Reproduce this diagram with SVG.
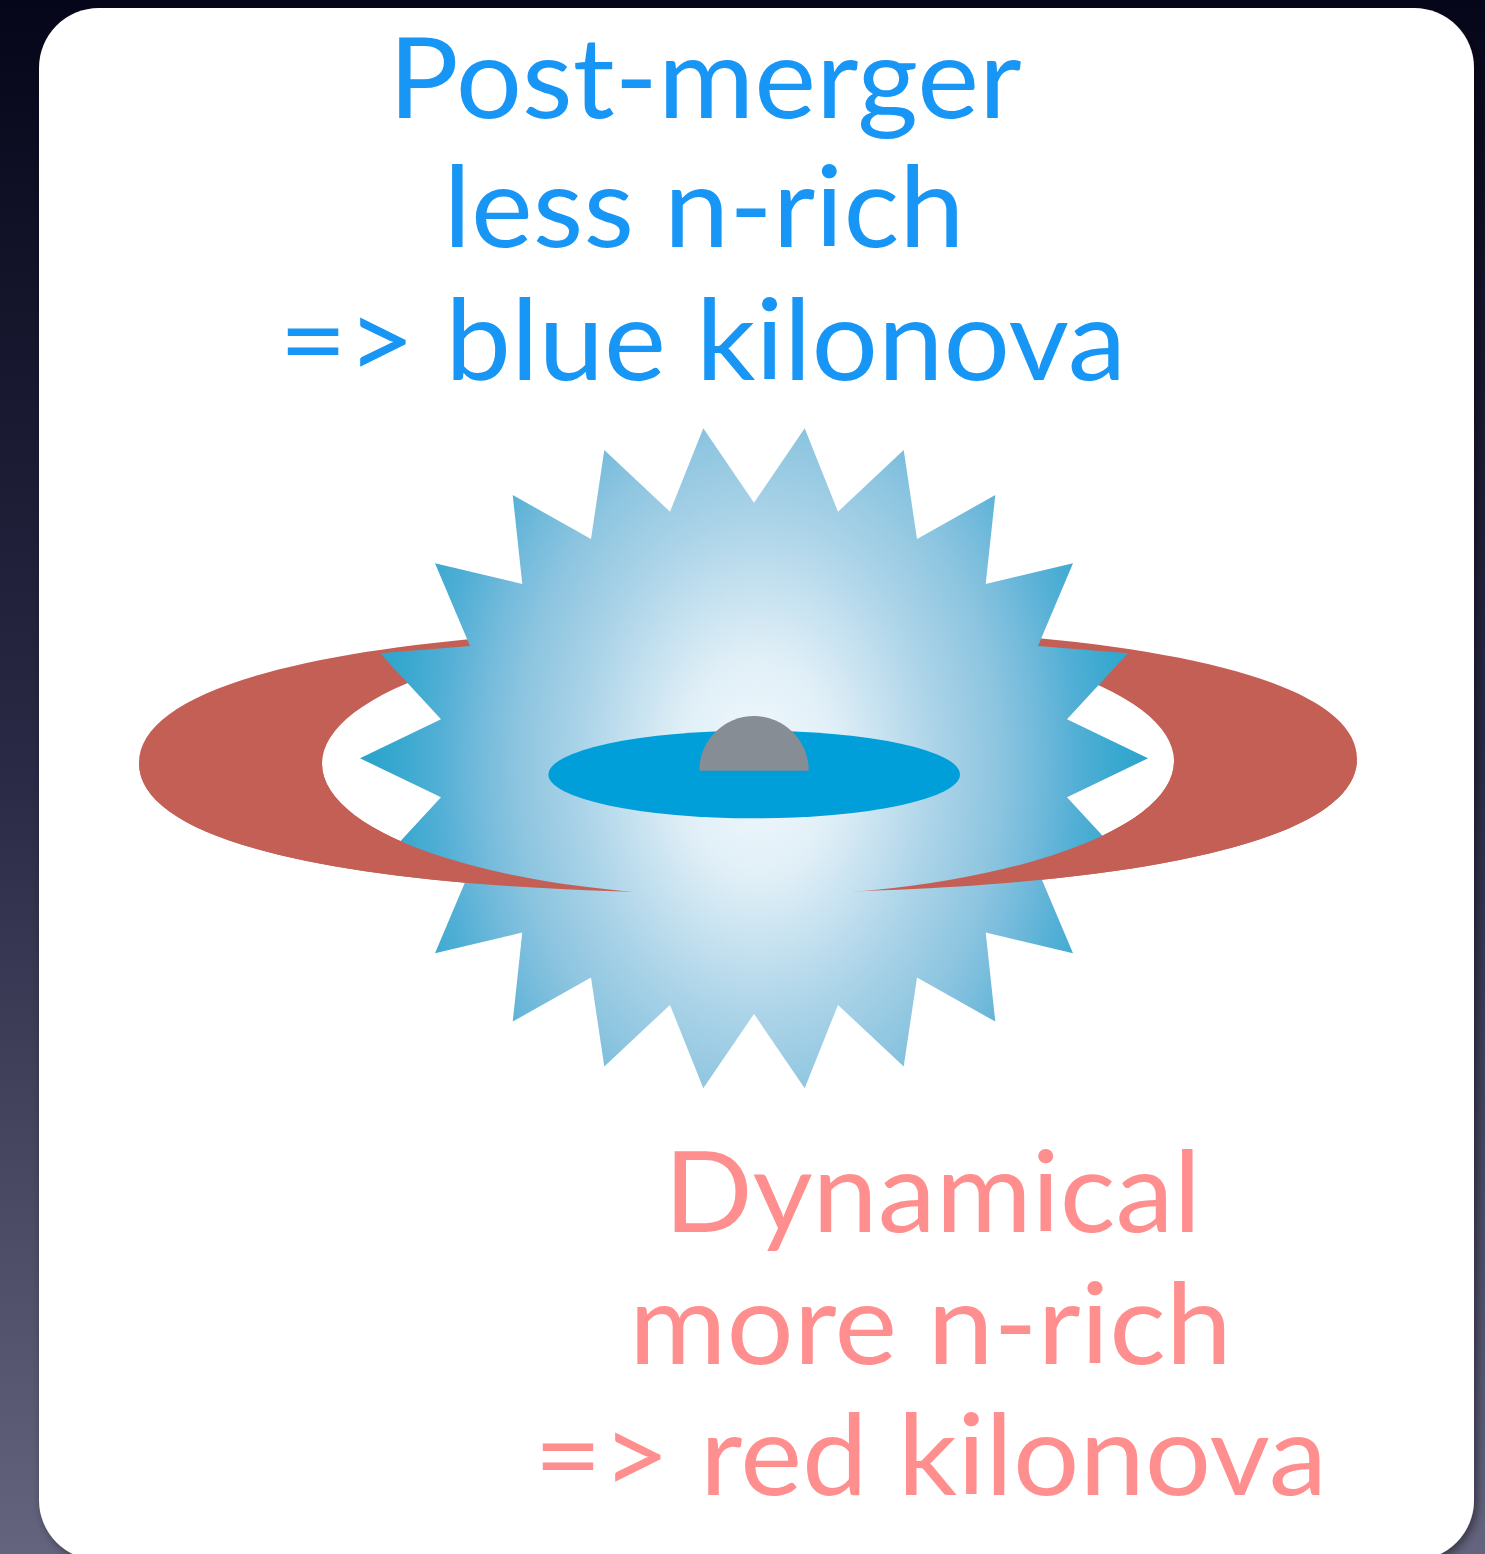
<svg xmlns="http://www.w3.org/2000/svg" width="1485" height="1554" viewBox="0 0 1485 1554">
  <defs>
    <style>
      .lbl { font-family: "Lato", "Open Sans", "Liberation Sans", sans-serif; font-size: 112px; text-anchor: middle; }
      .blue { fill: #1896f5; }
      .red { fill: #ff8f8f; }
      .ring { fill: #c45f55; }
    </style>
    <linearGradient id="bgGrad" x1="0" y1="0" x2="0" y2="1">
      <stop offset="0" stop-color="#06061a"/>
      <stop offset="0.5" stop-color="#2a2a46"/>
      <stop offset="1" stop-color="#64647e"/>
    </linearGradient>
    <radialGradient id="burstGrad" gradientUnits="userSpaceOnUse" cx="758" cy="768" r="400"
                    gradientTransform="translate(758 768) scale(1 1.4) translate(-758 -768)">
      <stop offset="0" stop-color="#f3f9fd"/>
      <stop offset="0.2" stop-color="#e0eff7"/>
      <stop offset="0.45" stop-color="#aad3e8"/>
      <stop offset="0.6" stop-color="#8dc5e0"/>
      <stop offset="0.7" stop-color="#72badb"/>
      <stop offset="0.8" stop-color="#52afd5"/>
      <stop offset="0.9" stop-color="#38a8cf"/>
      <stop offset="1" stop-color="#29a3cb"/>
    </radialGradient>
    <filter id="panelShadow" x="-5%" y="-5%" width="110%" height="110%">
      <feDropShadow dx="3" dy="3" stdDeviation="5" flood-color="#000" flood-opacity="0.45"/>
    </filter>
    <!-- ring = outer rounded oval minus inner ellipse -->
    <mask id="ringMask" maskUnits="userSpaceOnUse" x="0" y="0" width="1485" height="1554">
      <path fill="#fff" d="M139,761 C139,677 370,627 748,627 C1126,627 1357,677 1357,761 C1357,845 1126,893 748,893 C370,893 139,845 139,761 Z"/>
      <ellipse fill="#000" cx="748" cy="762.5" rx="426" ry="134"/>
    </mask>
    <clipPath id="frontHalf">
      <rect x="0" y="762" width="1485" height="300"/>
    </clipPath>
  </defs>

  <rect id="bg" x="0" y="0" width="1485" height="1554" fill="url(#bgGrad)"/>
  <rect id="panel" x="39" y="8" width="1435" height="1552" rx="60" ry="60" fill="#ffffff" filter="url(#panelShadow)"/>

  <g id="ring-back" transform="rotate(-0.2 748 761)">
    <rect class="ring" x="100" y="600" width="1300" height="320" mask="url(#ringMask)"/>
  </g>

  <path id="burst" fill="url(#burstGrad)" d="M360,758.3 L441,719.3 L380,653.3 L470,646 L435,563.3 L522.3,584 L512.7,495 L591,539 L604.3,450 L670,511.7 L703.3,428.3 L754,502.7 L804.7,428.3 L838,511.7 L903.7,450 L917,539 L995.3,495 L985.7,584 L1073,563.3 L1038,646 L1128,653.3 L1067,719.3 L1148,758.3 L1067,797.3 L1128,863.3 L1038,870.6 L1073,953.3 L985.7,932.6 L995.3,1021.6 L917,977.6 L903.7,1066.6 L838,1004.9 L804.7,1088.3 L754,1013.9 L703.3,1088.3 L670,1004.9 L604.3,1066.6 L591,977.6 L512.7,1021.6 L522.3,932.6 L435,953.3 L470,870.6 L380,863.3 L441,797.3 Z"/>

  <g id="ring-front" clip-path="url(#frontHalf)">
    <g transform="rotate(-0.2 748 761)">
      <rect class="ring" x="100" y="600" width="1300" height="320" mask="url(#ringMask)"/>
    </g>
  </g>

  <ellipse id="disk" cx="754.2" cy="774.5" rx="205.8" ry="43.8" fill="#009fd9"/>
  <path id="core" d="M699.3,770.7 A54.7,54.7 0 0 1 808.7,770.7 Z" fill="#878d94"/>

  <g id="label-blue">
    <text class="lbl blue" x="705" y="118" textLength="633" lengthAdjust="spacingAndGlyphs">Post-merger</text>
    <text class="lbl blue" x="704" y="247" textLength="521" lengthAdjust="spacingAndGlyphs">less n-rich</text>
    <text class="lbl blue" x="702.5" y="380" textLength="847" lengthAdjust="spacingAndGlyphs">=&gt; blue kilonova</text>
  </g>

  <g id="label-red">
    <text class="lbl red" x="932.5" y="1232" textLength="537" lengthAdjust="spacingAndGlyphs">Dynamical</text>
    <text class="lbl red" x="930.5" y="1364" textLength="603" lengthAdjust="spacingAndGlyphs">more n-rich</text>
    <text class="lbl red" x="930.5" y="1495" textLength="793" lengthAdjust="spacingAndGlyphs">=&gt; red kilonova</text>
  </g>
</svg>
